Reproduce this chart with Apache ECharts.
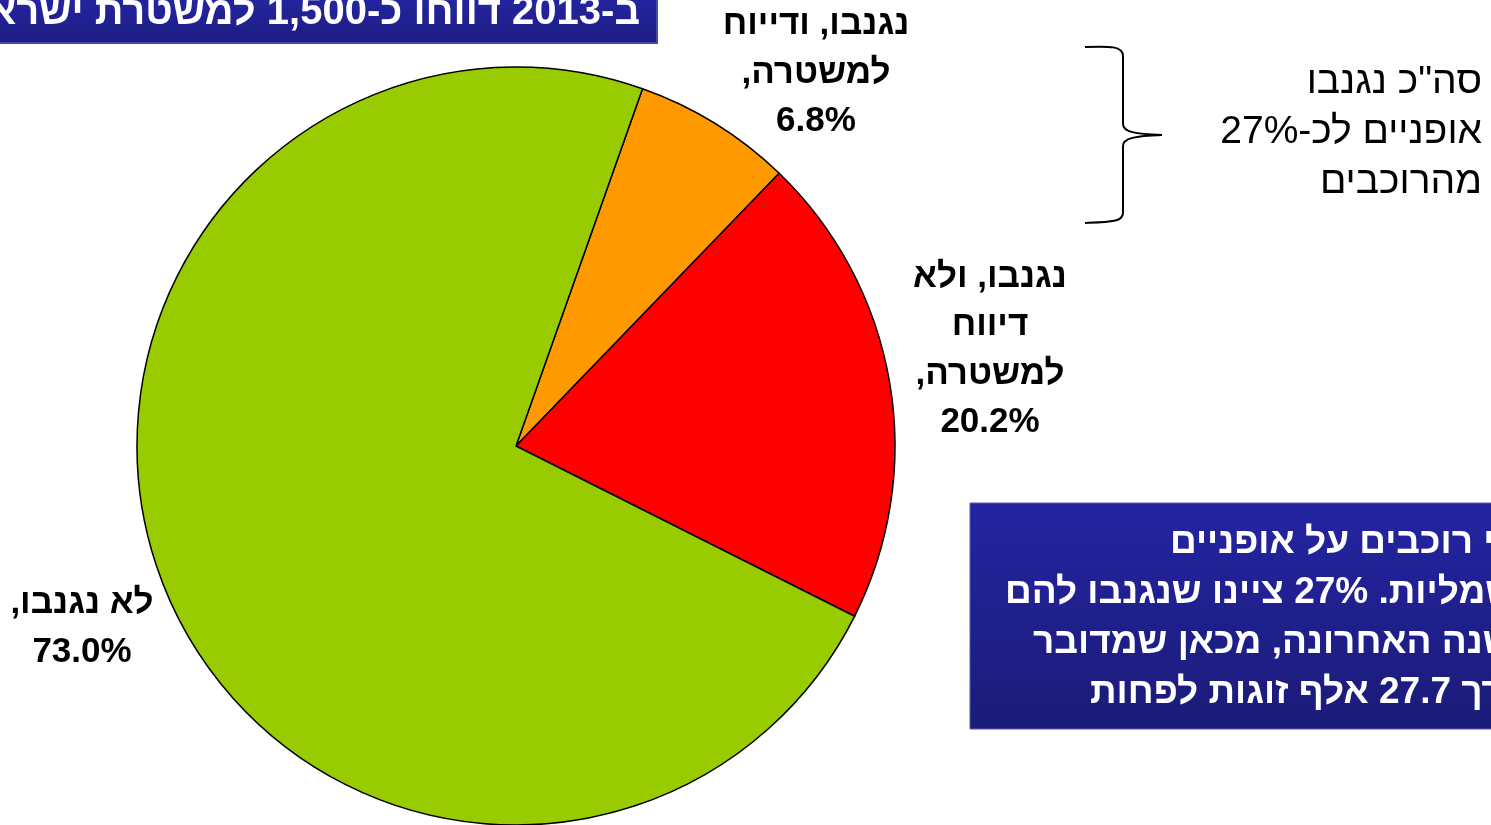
<!DOCTYPE html>
<html dir="rtl">
<head>
<meta http-equiv="Content-Type" content="text/html; charset=utf-8" />
<title>גניבות אופניים חשמליים</title>
<style type="text/css">
  html, body {height:100%; margin:0; padding:0; background:#fff;}
  #main {width:1491px; height:825px;}
</style>
<script type="text/javascript" src="https://cdn.jsdelivr.net/npm/echarts@6.0.0/dist/echarts.min.js"></script>
</head>
<body>
<div id="main"></div>
<script type="text/javascript">
// נתונים
var categories = ['נגנבו, ודייוח\nלמשטרה,', 'נגנבו, ולא\nדיווח\nלמשטרה,', 'לא נגנבו,'];
var values = [6.8, 20.2, 73.0];
var colors = ['#ff9900', '#ff0000', '#99cc00'];

var titleText = 'ב-2013 דווחו כ-1,500 למשטרת ישראל';
var braceLines = ['סה"כ נגנבו', 'אופניים לכ-27%', 'מהרוכבים'];
var boxLines = [
  'אלפי רוכבים על אופניים',
  'חשמליות. 27% ציינו שנגנבו להם',
  'בשנה האחרונה, מכאן שמדובר',
  'בערך 27.7 אלף זוגות לפחות'
];

// מיקום התוויות (פיקסלים)
var labelPos = [[816, 73], [990, 350], [82, 628]];
var boxLeft = [1170, 1005, 1033, 1090];

var chart = echarts.init(document.getElementById('main'));

var data = [];
for (var i = 0; i < values.length; i++) {
  data.push({name: categories[i], value: values[i], itemStyle: {color: colors[i]}});
}

var braceStyle = {fill: 'none', stroke: '#000', lineWidth: 2};

var graphics = [
  {
    type: 'rect',
    shape: {x: -3, y: -3, width: 660, height: 46},
    style: {
      fill: new echarts.graphic.LinearGradient(0, 0, 0, 1, [
        {offset: 0, color: '#2525a2'}, {offset: 1, color: '#1c1c80'}]),
      stroke: '#4646b0', lineWidth: 2
    }
  },
  {
    type: 'text',
    style: {
      text: titleText, x: 640, y: 13, align: 'right', verticalAlign: 'middle',
      fill: '#fff', font: 'bold 40px "Liberation Sans", Arial, sans-serif'
    }
  },
  // סוגריים מסולסלים
  {type: 'bezierCurve', shape: {x1: 1085, y1: 47, cpx1: 1110, cpy1: 46, cpx2: 1123, cpy2: 46, x2: 1123, y2: 56}, style: braceStyle},
  {type: 'line', shape: {x1: 1123, y1: 56, x2: 1123, y2: 124}, style: braceStyle},
  {type: 'bezierCurve', shape: {x1: 1123, y1: 124, cpx1: 1123, cpy1: 132, cpx2: 1135, cpy2: 134, x2: 1162, y2: 135}, style: braceStyle},
  {type: 'bezierCurve', shape: {x1: 1162, y1: 135, cpx1: 1135, cpy1: 136, cpx2: 1123, cpy2: 138, x2: 1123, y2: 146}, style: braceStyle},
  {type: 'line', shape: {x1: 1123, y1: 146, x2: 1123, y2: 213}, style: braceStyle},
  {type: 'bezierCurve', shape: {x1: 1123, y1: 213, cpx1: 1123, cpy1: 222, cpx2: 1110, cpy2: 222, x2: 1085, y2: 223}, style: braceStyle},
  {
    type: 'rect',
    shape: {x: 970, y: 503, width: 530, height: 226},
    style: {
      fill: new echarts.graphic.LinearGradient(0, 0, 0, 1, [
        {offset: 0, color: '#2424a2'}, {offset: 1, color: '#1b1b78'}]),
      stroke: '#5a5ab8', lineWidth: 1
    }
  }
];

for (var j = 0; j < braceLines.length; j++) {
  graphics.push({
    type: 'text',
    style: {
      text: braceLines[j], x: 1482, y: 82 + j * 50, align: 'right', verticalAlign: 'middle',
      fill: '#000', font: '39px "Liberation Sans", Arial, sans-serif'
    }
  });
}
for (var k = 0; k < boxLines.length; k++) {
  graphics.push({
    type: 'text',
    style: {
      text: boxLines[k], x: boxLeft[k], y: 543 + k * 50, align: 'left', verticalAlign: 'middle',
      fill: '#fff', font: 'bold 37px "Liberation Sans", Arial, sans-serif'
    }
  });
}

chart.setOption({
  animation: false,
  graphic: graphics,
  series: [{
    type: 'pie',
    center: [516, 446],
    radius: 379,
    startAngle: 70.5,
    clockwise: true,
    data: data,
    itemStyle: {borderColor: '#000', borderWidth: 1.5},
    emphasis: {disabled: true},
    labelLine: {show: false},
    label: {
      show: true,
      position: 'outside',
      overflow: 'none',
      color: '#000',
      fontFamily: '"Liberation Sans", Arial, sans-serif',
      fontWeight: 'bold',
      fontSize: 35,
      lineHeight: 48.5,
      align: 'center',
      formatter: function (p) {
        return p.name + '\n' + p.value.toFixed(1) + '%';
      }
    },
    labelLayout: function (p) {
      return {
        x: labelPos[p.dataIndex][0],
        y: labelPos[p.dataIndex][1],
        align: 'center',
        verticalAlign: 'middle'
      };
    }
  }]
});
</script>
</body>
</html>
